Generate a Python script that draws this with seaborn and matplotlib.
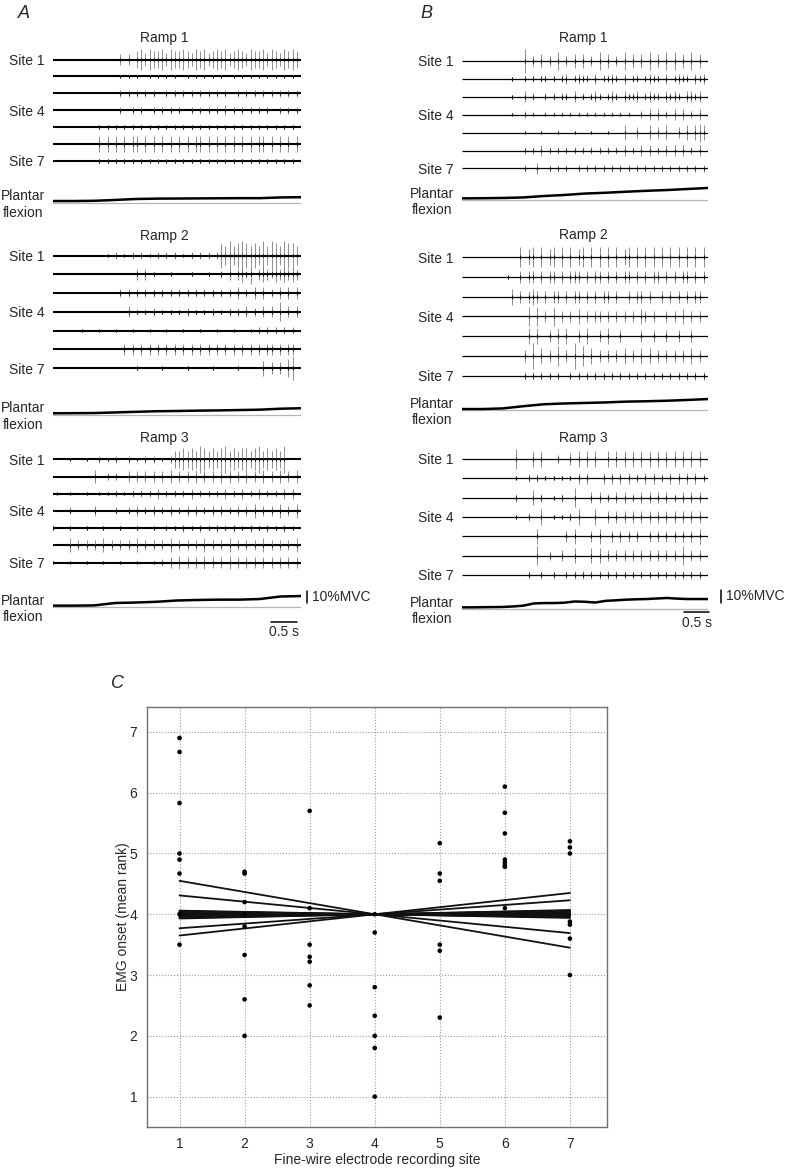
import numpy as np
import pandas as pd
import matplotlib
matplotlib.use('Agg')
import matplotlib.pyplot as plt
import seaborn as sns

# EMG traces: one character per time bin, '.' = no unit firing,
# digits = spike amplitude class
a_ramp1 = [
    '.' * 16 + '3.3.' + '5646556465565465645656456546556465465656',
    '.' * 16 + '1.1.1..1.1.1.1..1.1.1.1.1..1.1.1.1.1.1.1.1.1',
    '.' * 16 + '2.2.2.2.2..2.2.2.2.2.2.2.2..2.2.2.2.2.2.2.2.2',
    '.' * 16 + '2..2.2..2.2.2.2..2.2.2.2.3.2.2.2.2.2..2.2.2.2',
    '.' * 11 + '1.1.1.1.1.1.1.1.1.1.1.1.1.1.1.1.1.1.1.1.1.1.1.1.1',
    '.' * 11 + '5.5.5.5.55.5.5.5.5.5.5.55.5.5.5.5.5.5.55.5.5.5.5.5',
    '.' * 11 + '1.1.1.1.1.1.1.1.1.1.1.1.1.1.1.1.1.1.1.1.1.1.1.1.1',
]
a_ramp2 = [
    '.' * 13 + '1.2.1.2.2.1.2.2.2.1.2.2.2.2' + '6575676565757657665',
    '.' * 20 + '3.3.1...1....1...1..' + '2.3.3425.3432434343',
    '.' * 16 + '2.2.2.2.2.2.2.2.2.2.2.2.2.2.3.2.3.3.2.3.3.3.3.3',
    '.' * 18 + '3.1.1.2.1.1.1.2.1.1.2.1.2.2.3.2.3.3.5.3.3.3',
    '.' * 4 + '...1...1...1...1...1...1...1...1...1...1...1.' + '2.2.2.2.2.2',
    '.' * 17 + '3.3.3.3.3.3.3.3.3.3.3.3.3.3.3.3.3.33.3.33.3.3',
    '.' * 20 + '1.....1.....1.....1.....1.....' + '4.3.3.56.3.3',
]
a_ramp3 = [
    '.' * 4 + '1...1..2.1.2..2.1.2.2.1.2' + '556565765656756566567565657',
    '.' * 10 + '4..2.2..3.3.3.3.3.4.3.3.4.3.3.4.4.3.4.3.4.3.4.3.4.4.3.4.4.3',
    '.1..1...1..1.1.2.1.2.2.2.3.2.2.2.3.2.2.2.3.2.3.2.3.2.2.3.3.2.3.2.3.',
    '....2.....3....2..2.3.2.3.2.3.2.3.3.2.3.3.2.3.3.4.3.3.4.3.4.3.4',
    '1...1...1...1...1...1...1..1.1.2.1.2.1.2.1.2.1.2.1.2.1.2.1.2.1',
    '....4.3.3.3.4.3.3.3.4.3.3.3.4.3.3.3.4.3.3.4.3.3.3.4.3.3.3.4.3.3.',
    '1...1...1...1...1...1...1' + '.2.3.4.3.3.4.3.3.4.3.3.3.3.3.3.3.3.3',
]
b_ramp1 = [
    '.' * 15 + '6.3.4.3.5.3.4.4.3.5.4.3.5.4.4.5.4.5.5.4.5.4.5.5.4.5.5.5.4.5.5',
    '.' * 12 + '1..2.2.22.2.23.2322.3.2232.3.22.2322.3.2322.323.2232.3',
    '.' * 12 + '1..3.2..2.2.22.3.2.232.232.3223.2322.3232.3323.2323.232',
    '.' * 12 + '1..2.1..1.1.1.1.1.1.1.1.1.1.1..2.3.3.2.3.3.2.3.2.3.2.3.3',
    '.' * 15 + '1...1...1...1...1...1.' + '..4..3..4.3.4..3.4.454.5',
    '.' * 15 + '2.2.3.2.2.2.2.2.2.2.2.2.3.2.3.3.2.3.3.3.2.3.4.3.5.3',
    '.' * 15 + '2..3..2.2.2..2.2.2.2.2.2.2.2.2.2.2.2.2.2.2.2.2.2',
]
b_ramp2 = [
    '.' * 14 + '5.45.5.45.5.5.45.5.5.5.5.45.5.5.5.5.5.5.5.5.5',
    '.' * 11 + '1..3.33.3.33.3.333.3.33.3.3.33.3.3.33.3.3.33.3.3.33',
    '.' * 12 + '4.3.343.3.33.3.33.3.3.33.3..3.33.3..3.3.3.3.33',
    '.' * 16 + '5.5.3.5.3.3.4.3.33.3.3.3.3.43.3..3.3.4.3.3.3.3.',
    '.' * 16 + '4.4..3.4.4..3.4..3.4..3....3..3..3..3..3',
    '.' * 15 + '3.6.4.3.5.3.6.5.4.3.3.3.4.3.4.4.3.3.3.3.4.3.3.3.3.3.3.4',
    '.' * 15 + '2.2.2.2.2..2.2.2.2.2.2.2.2.2.2.2.2.2.2.2.2.2.2.2',
]
b_ramp3 = [
    '.' * 13 + '5...4.4...2..3.4.4.4..4.4.4.4.4.4.4.4.4.4.4.4.4.4.4.4.4',
    '.' * 13 + '1..2.2.1.1.1.1.3.3...3.3.3.3.2.3.3.2.3.3.3.3.2.3.3.3.3.3',
    '.' * 13 + '2...4.2..1.2..5...3.3.2.3.3.2.3.3.3.3.2.3.3.3.3.3.3.3',
    '.' * 13 + '1..2..4..1.1.2.4...4..3.3.3.3.3.3.3.3.3.3.3.3.3.3',
    '.' * 18 + '4......3.4...3.4..3.3.3.3..3.3.3.3.3.3.4',
    '.' * 18 + '5..2..3..4...4.4.3.3.3.3.3.3.3.3.3.5.3.3.3',
    '.' * 16 + '2..2..2..2.2.2.2.2.2.2.2.2.2.2.2.2.2.2.2.2.2.2',
]

# plantar flexion force (%MVC above rest), evenly sampled over the ramp
a_force1 = [0.8, 0.8, 1.0, 1.7, 2.5, 2.8, 2.9, 3.0, 3.1, 3.2, 3.2, 3.8, 4.0]
a_force2 = [0.6, 0.7, 0.8, 1.3, 1.8, 2.3, 2.5, 2.8, 3.0, 3.3, 3.6, 4.4, 4.8]
a_force3 = [0.3, 0.3, 0.5, 2.5, 2.9, 3.5, 4.6, 5.0, 5.3, 5.3, 5.8, 7.9, 8.3]
b_force1 = [0.5, 0.6, 0.8, 1.2, 2.3, 3.1, 4.2, 4.8, 5.6, 6.3, 6.9, 7.7, 8.5]
b_force2 = [0.5, 0.5, 1.0, 2.7, 4.2, 4.8, 5.2, 5.6, 6.2, 6.5, 6.9, 7.5, 8.2]
b_force3 = [0.5, 0.5, 0.6, 0.7, 0.8, 1.2, 1.8, 3.5, 3.8, 3.8, 4.1, 5.0, 4.8,
            4.2, 5.5, 5.9, 6.4, 6.7, 6.9, 7.3, 7.7, 7.2, 6.9, 6.9, 6.9]

site_labels = ['Site 1', '', '', 'Site 4', '', '', 'Site 7']

# panel C: mean rank of EMG onset at each recording site
site1_onsets = [6.9, 6.67, 5.83, 5.0, 4.9, 4.67, 3.5, 4.0]
site2_onsets = [4.7, 4.67, 4.2, 3.8, 3.33, 2.6, 2.0, 4.0]
site3_onsets = [5.7, 4.1, 3.5, 3.3, 3.22, 2.83, 2.5]
site4_onsets = [4.0, 3.7, 2.8, 2.33, 2.0, 1.8, 1.0]
site5_onsets = [5.17, 4.67, 4.55, 3.5, 3.4, 2.3]
site6_onsets = [6.1, 5.67, 5.33, 4.9, 4.85, 4.8, 4.78, 4.1]
site7_onsets = [5.2, 5.1, 5.0, 3.88, 3.83, 3.6, 3.0]
# regression lines, value at site 1 and at site 7
fit_at_site1 = [4.55, 4.31, 3.77, 3.65, 4.06, 4.05, 4.04, 4.03, 4.02, 4.01,
                4.0, 3.99, 3.98, 3.97, 3.96, 3.95, 3.94, 3.93]
fit_at_site7 = [3.45, 3.69, 4.23, 4.35, 3.94, 3.95, 3.96, 3.97, 3.98, 3.99,
                4.0, 4.01, 4.02, 4.03, 4.04, 4.05, 4.06, 4.07]

sns.set_style('white')
plt.rcParams['font.family'] = ['Liberation Sans', 'DejaVu Sans']

W, H = 785, 1170
fig = plt.figure(figsize=(W / 100, H / 100), dpi=100)

NBINS = 60
SPIKE = {'1': 0.1, '2': 0.2, '3': 0.3, '4': 0.4, '5': 0.5, '6': 0.65, '7': 0.8}


def px_axes(left, top, right, bottom):
    return fig.add_axes([left / W, 1 - bottom / H, (right - left) / W, (bottom - top) / H])


def draw_block(x0, x1, T, row0, dy, force_px, title_px, title_x, title,
               traces, force, mvc_px, thick):
    top = title_px - 12
    bottom = force_px + 34
    ax = px_axes(x0, top, x1, bottom)
    ax.set_xlim(0, T)
    ax.set_ylim((bottom - row0) / dy, (top - row0) / dy)
    fr = (force_px - row0) / dy

    t = np.linspace(0, T, NBINS)
    for k, code in enumerate(traces):
        code = code[:NBINS].ljust(NBINS, '.')
        ax.plot([0, T], [k, k], color='black', lw=thick, solid_capstyle='butt')
        ts = [t[i] for i, c in enumerate(code) if c != '.']
        hs = np.array([SPIKE[c] for c in code if c != '.'])
        ax.vlines(ts, k - hs, k + hs, color='#7c7c7c', lw=0.6)
        core = np.minimum(hs, 0.1)
        ax.vlines(ts, k - core, k + core, color='#111111', lw=0.8)

    ft = np.linspace(0, T, len(force))
    ax.plot([0, T], [fr + 0.04, fr + 0.04], color='#b5b5b5', lw=0.9)
    ax.plot(ft, fr - np.array(force) * mvc_px / 10 / dy, color='black', lw=1.8)

    ax.text((title_x - x0) / (x1 - x0) * T, (title_px - row0) / dy, title,
            ha='center', va='center', fontsize=10)
    ax.set_yticks(list(range(len(traces))) + [fr])
    ax.set_yticklabels(site_labels + ['Plantar\nflexion'], multialignment='center')
    ax.tick_params(axis='y', length=0, pad=5.8, labelsize=10)
    ax.set_xticks([])
    for s in ax.spines.values():
        s.set_visible(False)
    ax.patch.set_alpha(0)
    return ax, fr


def scale_bars(ax, x0, x1, T, row0, dy, fr, mvc_px, mvc_x, mvc_lo, sec_y, sec_end, sec_txt_y):
    pps = (x1 - x0) / T
    bx = (mvc_x - x0) / pps
    lo = fr - mvc_lo / dy
    hi = lo - 10 * mvc_px / 10 / dy
    ax.plot([bx, bx], [lo, hi], color='black', lw=1.1, clip_on=False)
    ax.text(bx + 5 / pps, (lo + hi) / 2, '10%MVC', ha='left', va='center', fontsize=10)
    se = (sec_end - x0) / pps
    sy = (sec_y - row0) / dy
    ax.plot([se - 0.5, se], [sy, sy], color='black', lw=1.1, clip_on=False)
    ax.text(se - 0.25, (sec_txt_y - row0) / dy, '0.5 s', ha='center', va='center', fontsize=10)


# panel A
TA = 4.77
ax, fr = draw_block(53, 301, TA, 59.5, 16.9, 202, 38, 164, 'Ramp 1', a_ramp1, a_force1, 12, 1.5)
ax, fr = draw_block(53, 301, TA, 255.5, 18.75, 414, 236, 164, 'Ramp 2', a_ramp2, a_force2, 12, 1.5)
ax, fr = draw_block(53, 301, TA, 459.3, 17.2, 606, 438, 164, 'Ramp 3', a_ramp3, a_force3, 12, 1.5)
scale_bars(ax, 53, 301, TA, 459.3, 17.2, fr, 12, 307, 3, 622, 297, 632)

# panel B
TB = 4.92
ax, fr = draw_block(462, 708, TB, 61, 17.9, 199, 38, 583, 'Ramp 1', b_ramp1, b_force1, 13, 0.9)
ax, fr = draw_block(462, 708, TB, 257.3, 19.73, 409.7, 235, 583, 'Ramp 2', b_ramp2, b_force2, 13, 0.9)
ax, fr = draw_block(462, 708, TB, 459, 19.33, 608, 438, 583, 'Ramp 3', b_ramp3, b_force3, 13, 0.9)
scale_bars(ax, 462, 708, TB, 459, 19.33, fr, 13, 721, 5, 612, 709, 623)

fig.text(24 / W, 1 - 13 / H, 'A', fontsize=13, style='italic', ha='center', va='center')
fig.text(426 / W, 1 - 13 / H, 'B', fontsize=13, style='italic', ha='center', va='center')
fig.text(118 / W, 1 - 683 / H, 'C', fontsize=13, style='italic', ha='center', va='center')

# panel C
pts = pd.DataFrame({
    'site': [1] * len(site1_onsets) + [2] * len(site2_onsets) + [3] * len(site3_onsets)
    + [4] * len(site4_onsets) + [5] * len(site5_onsets) + [6] * len(site6_onsets)
    + [7] * len(site7_onsets),
    'onset': site1_onsets + site2_onsets + site3_onsets + site4_onsets
    + site5_onsets + site6_onsets + site7_onsets,
})
fits = pd.DataFrame({
    'line': list(range(len(fit_at_site1))) * 2,
    'site': [1] * len(fit_at_site1) + [7] * len(fit_at_site7),
    'onset': fit_at_site1 + fit_at_site7,
})

axc = px_axes(147, 707, 607, 1127)
sns.lineplot(data=fits, x='site', y='onset', units='line', estimator=None,
             color='#111111', lw=1.3, ax=axc)
sns.scatterplot(data=pts, x='site', y='onset', color='black', s=11,
                edgecolor='none', ax=axc, zorder=3)
axc.set_xlim(0.5, 7.57)
axc.set_ylim(0.5, 7.41)
axc.set_xticks(range(1, 8))
axc.set_yticks(range(1, 8))
axc.grid(True, ls=':', color='#9a9a9a', lw=0.8)
axc.set_axisbelow(True)
axc.tick_params(length=0, pad=7, labelsize=10)
for s in axc.spines.values():
    s.set_visible(True)
    s.set_color('#707070')
    s.set_linewidth(1.0)
axc.set_xlabel('Fine-wire electrode recording site', fontsize=10)
axc.set_ylabel('EMG onset (mean rank)', fontsize=10)
axc.xaxis.set_label_coords(0.5, -(1160 - 1127) / 420)
axc.xaxis.label.set_va('center')
axc.yaxis.set_label_coords(-(147 - 123) / 460, 0.5)
axc.yaxis.label.set_va('center')

fig.savefig('out.png', dpi=100)
